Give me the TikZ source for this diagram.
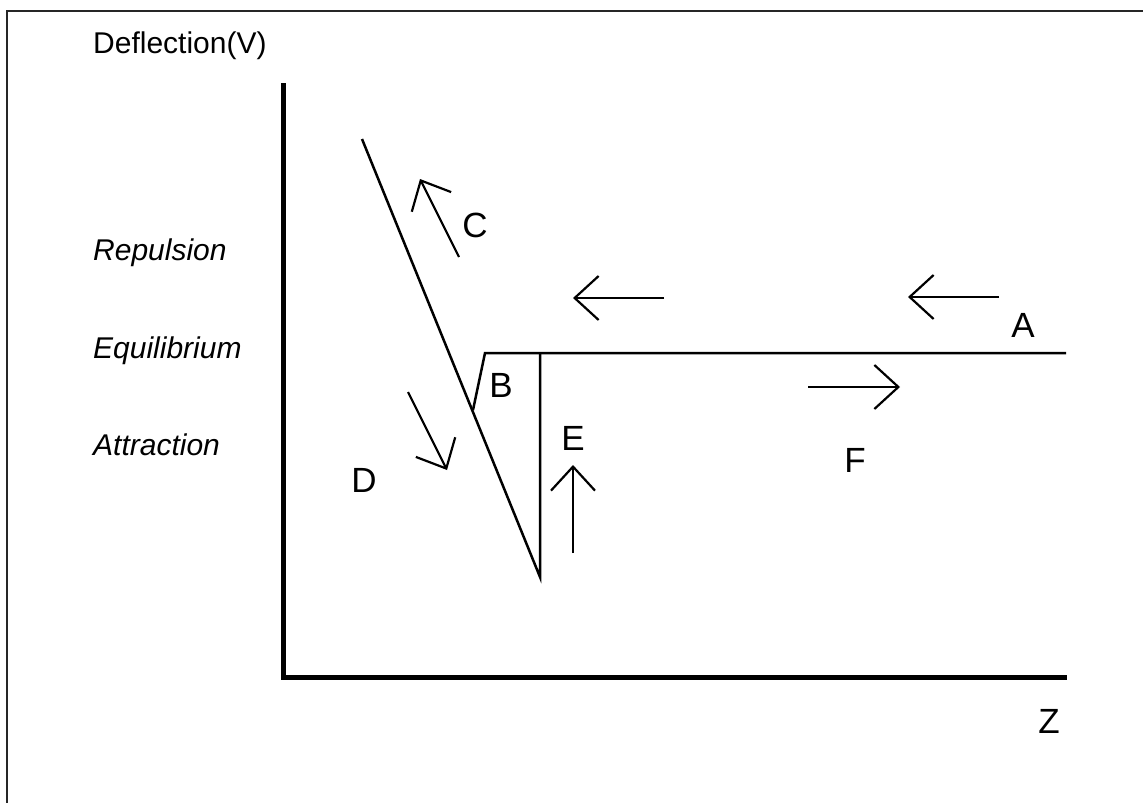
\documentclass[tikz,border=0pt]{standalone}
\usepackage{fontspec}
\setmainfont{Liberation Sans}
\usetikzlibrary{arrows.meta}
\begin{document}
\begin{tikzpicture}[x=1pt,y=-1pt,
  lbl/.style={inner sep=0pt,anchor=base,font=\fontsize{35}{40}\selectfont},
  side/.style={inner sep=0pt,anchor=base west,font=\fontsize{30}{35}\selectfont\itshape},
  axis/.style={line width=5pt,line cap=rect},
  curve/.style={line width=2.5pt,line join=miter},
  dirarrow/.style={line width=2.2pt,-{Straight Barb[length=24pt,width=44pt,line width=2.2pt]}}]
\useasboundingbox (0,0) rectangle (1143,803);
\fill[white] (0,0) rectangle (1143,803);
% frame
\draw[line width=1.3pt,black!85] (7,803) -- (7,11) -- (1143,11);
% axes
\coordinate (ytop) at (283,85);
\coordinate (orig) at (283,677.5);
\coordinate (xend) at (1064,677.5);
\draw[axis] (ytop) -- (orig) -- (xend);
% curve
\coordinate (p1) at (362,139);
\coordinate (p2) at (540,577);
\coordinate (p3) at (540,353);
\coordinate (q1) at (473,410);
\coordinate (q2) at (485,353);
\coordinate (q3) at (1066,353);
\draw[curve] (p1) -- (p2) -- (p3);
\draw[curve] (q1) -- (q2) -- (q3);
% direction arrows
\coordinate (a1s) at (999,297); \coordinate (a1e) at (908,297);
\coordinate (a2s) at (664,298); \coordinate (a2e) at (573,298);
\coordinate (cs) at (459,257); \coordinate (ce) at (420,179);
\coordinate (ds) at (408,392); \coordinate (de) at (447,470);
\coordinate (es) at (573,553); \coordinate (ee) at (573,465);
\coordinate (fs) at (808,387); \coordinate (fe) at (900,387);
\draw[dirarrow] (a1s) -- (a1e);
\draw[dirarrow] (a2s) -- (a2e);
\draw[dirarrow] (cs) -- (ce);
\draw[dirarrow] (ds) -- (de);
\draw[dirarrow] (es) -- (ee);
\draw[dirarrow] (fs) -- (fe);
% labels
\node[inner sep=0pt,anchor=base west,font=\fontsize{30}{35}\selectfont] (ylab) at (93,53) {Deflection(V)};
\node[side] (rep) at (93,260) {Repulsion};
\node[side] (equ) at (93,358) {Equilibrium};
\node[side] (att) at (93,455) {Attraction};
\node[lbl] (A) at (1023,337) {A};
\node[lbl] (B) at (501,397) {B};
\node[lbl] (C) at (475,237) {C};
\node[lbl] (D) at (364,492) {D};
\node[lbl] (E) at (573,450) {E};
\node[lbl] (F) at (855,472) {F};
\node[lbl] (Z) at (1049,733) {Z};
\end{tikzpicture}
\end{document}
